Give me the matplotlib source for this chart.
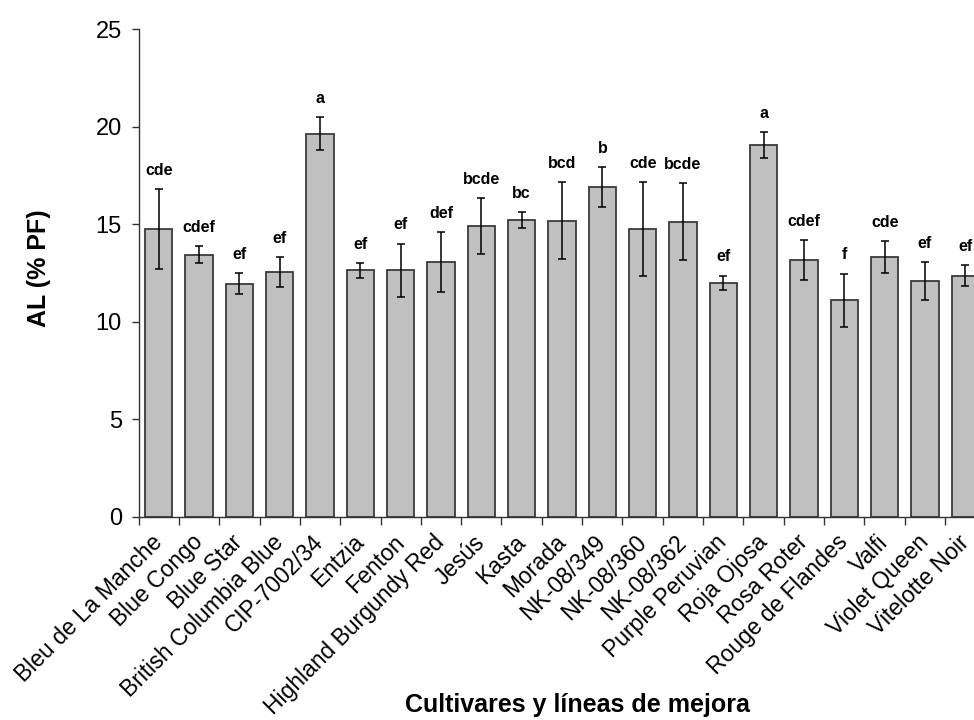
import matplotlib
matplotlib.use("Agg")
import matplotlib.pyplot as plt
import numpy as np

cultivars = [
    "Bleu de La Manche", "Blue Congo", "Blue Star", "British Columbia Blue",
    "CIP-7002/34", "Entzia", "Fenton", "Highland Burgundy Red", "Jesús",
    "Kasta", "Morada", "NK-08/349", "NK-08/360", "NK-08/362",
    "Purple Peruvian", "Roja Ojosa", "Rosa Roter", "Rouge de Flandes",
    "Valfi", "Violet Queen", "Vitelotte Noir",
]
al_mean = [14.75, 13.42, 11.94, 12.54, 19.64, 12.62, 12.62, 13.06, 14.92,
           15.22, 15.18, 16.89, 14.75, 15.12, 12.00, 19.05, 13.14, 11.10,
           13.32, 12.08, 12.36]
al_sd = [2.05, 0.44, 0.53, 0.77, 0.85, 0.40, 1.38, 1.54, 1.43,
         0.41, 1.97, 1.04, 2.39, 1.97, 0.36, 0.68, 1.03, 1.36,
         0.82, 0.98, 0.54]
groups = ["cde", "cdef", "ef", "ef", "a", "ef", "ef", "def", "bcde",
          "bc", "bcd", "b", "cde", "bcde", "ef", "a", "cdef", "f",
          "cde", "ef", "ef"]

plt.rcParams["font.family"] = ["Liberation Sans", "DejaVu Sans"]

fig = plt.figure(figsize=(9.74, 7.2), dpi=100)
ax = fig.add_axes([0.1422, 0.2826, 0.8696, 0.677])

x = np.arange(len(cultivars)) + 0.5
ax.bar(x, al_mean, width=0.67, color="#c0c0c0", edgecolor="#3a3a3a",
       linewidth=1.3, zorder=2)
ax.errorbar(x, al_mean, yerr=al_sd, fmt="none", ecolor="black",
            elinewidth=1.1, capsize=3.0, capthick=1.1, zorder=3)

for xi, m, s, g in zip(x, al_mean, al_sd, groups):
    ax.annotate(g, (xi, m + s), xytext=(0, 8), textcoords="offset points",
                ha="center", va="bottom", fontsize=11.5, fontweight="bold")

ax.set_xlim(0, len(cultivars))
ax.set_ylim(0, 25)
ax.set_yticks(np.arange(0, 26, 5))
ax.tick_params(axis="y", labelsize=17, length=5, width=1, pad=7,
               direction="out", color="#333333")

# tick marks between categories, labels centred under the bars
ax.set_xticks(np.arange(0, len(cultivars) + 1))
ax.set_xticklabels([])
ax.set_xticks(x, minor=True)
ax.set_xticklabels(cultivars, minor=True, rotation=45, ha="right",
                   va="center", rotation_mode="anchor", fontsize=16.5)
ax.tick_params(axis="x", which="major", length=5.5, width=1,
               direction="out", color="#333333")
ax.tick_params(axis="x", which="minor", length=0, pad=16)

for spine in ("top", "right"):
    ax.spines[spine].set_visible(False)
for spine in ("left", "bottom"):
    ax.spines[spine].set_color("#333333")
    ax.spines[spine].set_linewidth(1.0)

fig.text(577 / 974, 1 - 705 / 720, "Cultivares y líneas de mejora",
         ha="center", va="center", fontsize=18, fontweight="bold")
fig.text(39 / 974, 1 - 268 / 720, "AL (% PF)", rotation=90,
         ha="center", va="center", fontsize=18, fontweight="bold")

fig.savefig("out.png", dpi=100)
